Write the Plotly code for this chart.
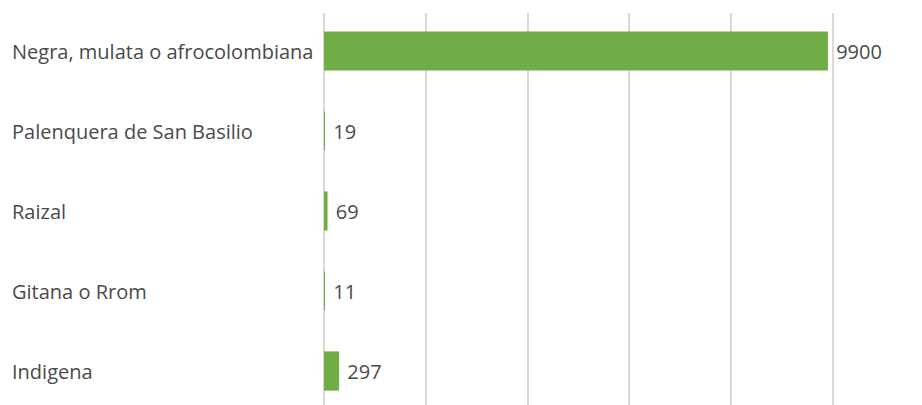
import plotly.graph_objects as go

categories = ["Negra, mulata o afrocolombiana", "Palenquera de San Basilio", "Raizal", "Gitana o Rrom", "Indigena"]
values = [9900, 19, 69, 11, 297]

bar_color = "#70AD47"
text_color = "#4A4A4A"
font_family = "Open Sans"

fig = go.Figure()
fig.add_trace(go.Bar(
    x=values,
    y=categories,
    orientation="h",
    marker=dict(color=bar_color, line=dict(width=0)),
    width=0.49,
    text=[str(v) for v in values],
    texttemplate="\u00a0%{text}",
    textposition="outside",
    cliponaxis=False,
    textfont=dict(family=font_family, size=20, color=text_color),
    hoverinfo="skip",
))

for c in categories:
    fig.add_annotation(
        x=-0.525, xref="paper", y=c, yref="y",
        text=c, showarrow=False, xanchor="left", yanchor="middle",
        font=dict(family=font_family, size=20, color=text_color),
    )

fig.update_layout(
    width=922, height=405,
    margin=dict(l=316, r=8, t=5, b=8, autoexpand=False),
    paper_bgcolor="white", plot_bgcolor="white",
    showlegend=False,
    xaxis=dict(range=[0, 11748], dtick=2000, showticklabels=False,
               showgrid=True, gridcolor="#D9D9D9", gridwidth=1.5,
               zeroline=True, zerolinecolor="#D9D9D9", zerolinewidth=1.5,
               fixedrange=True),
    yaxis=dict(categoryorder="array", categoryarray=categories,
               range=[4.425, -0.475], showticklabels=False,
               showgrid=False, zeroline=False, fixedrange=True),
)

fig.write_html("out.html")
